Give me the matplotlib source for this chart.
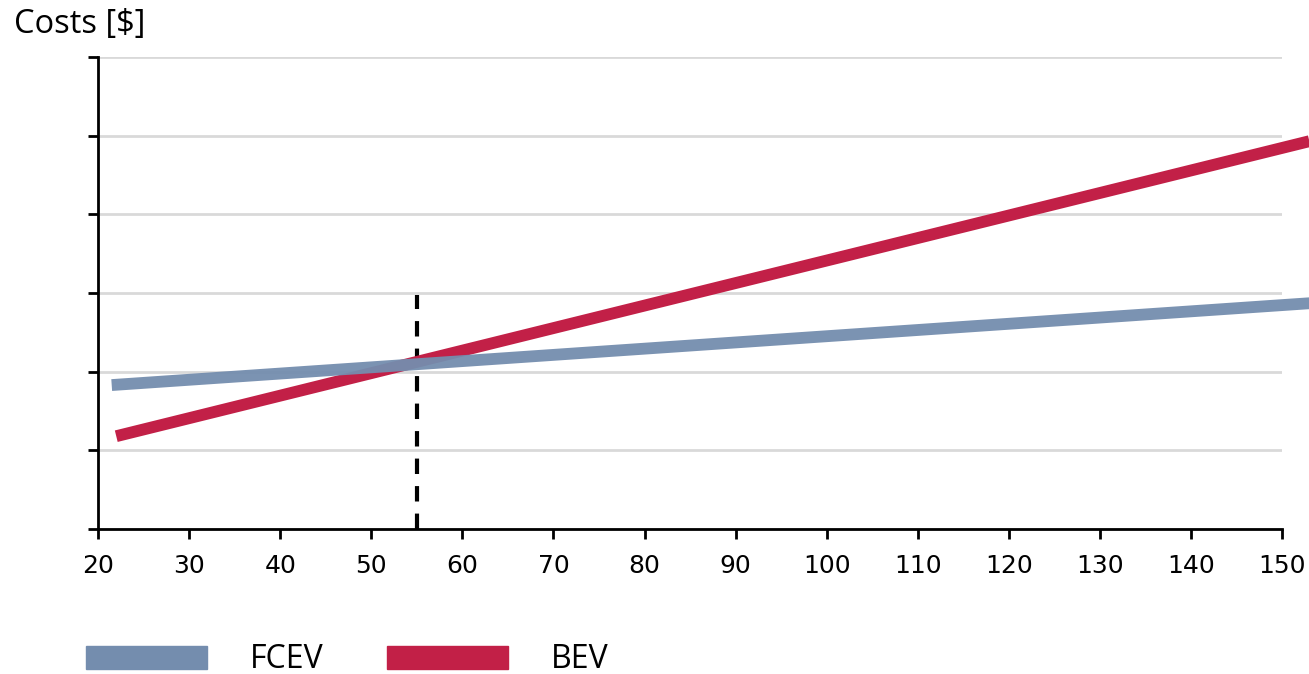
import matplotlib.pyplot as plt
from matplotlib.patches import Patch

# data (arbitrary cost units, no y labels)
fcev_x = [21.5, 153]
fcev_y = [1.83, 2.87]
bev_x = [22, 153]
bev_y = [1.18, 4.93]
breakeven_x = 55
breakeven_top = 2.97
x_ticks = [20, 30, 40, 50, 60, 70, 80, 90, 100, 110, 120, 130, 140, 150]
y_ticks = [0, 1, 2, 3, 4, 5, 6]

fcev_color = '#748dae'
bev_color = '#c22047'
label_font = ['Open Sans', 'DejaVu Sans']

fig = plt.figure(figsize=(13.09, 6.74), dpi=100)
ax = fig.add_axes([0.0749, 0.2151, 0.9045, 0.7003])

ax.set_xlim(20, 150)
ax.set_ylim(0, 6)
ax.set_xticks(x_ticks)
ax.set_yticks(y_ticks)
ax.set_yticklabels([])
ax.tick_params(axis='both', direction='out', length=7, width=2, labelsize=18, pad=11)

ax.grid(axis='y', color='#d9d9d9', linewidth=2)
ax.set_axisbelow(True)
for s in ['top', 'right']:
    ax.spines[s].set_visible(False)
for s in ['left', 'bottom']:
    ax.spines[s].set_linewidth(2)

ax.plot([breakeven_x, breakeven_x], [0, breakeven_top], color='black',
        linestyle=(0, (3.7, 2.9)), linewidth=3, zorder=2)
ax.plot(bev_x, bev_y, color=bev_color, linewidth=8.5, solid_capstyle='butt',
        clip_on=False, zorder=3)
ax.plot(fcev_x, fcev_y, color=fcev_color, linewidth=8.5, solid_capstyle='butt',
        clip_on=False, zorder=4, alpha=0.95)

fig.text(0.011, 1 - 24 / 674, 'Costs [$]', fontsize=23.5, va='center', ha='left',
         family=label_font)

handles = [Patch(color=fcev_color, label='FCEV'), Patch(color=bev_color, label='BEV')]
fig.legend(handles=handles, loc='center left', bbox_to_anchor=(86 / 1309, 1 - 660 / 674),
           ncol=2, frameon=False, borderpad=0, borderaxespad=0,
           handlelength=3.79, handleheight=0.72, handletextpad=1.35, columnspacing=1.97,
           prop={'family': label_font, 'size': 23})

fig.savefig('out.png', dpi=100)
